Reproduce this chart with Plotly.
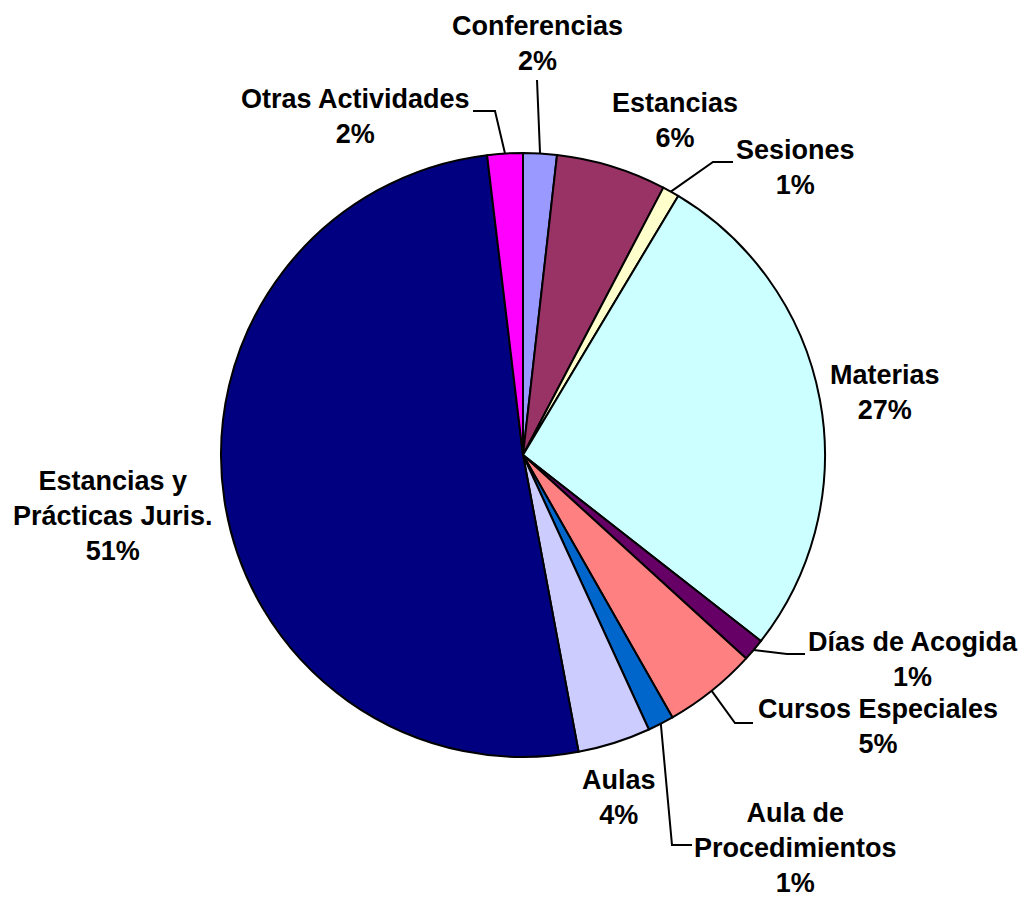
import math
import plotly.graph_objects as go

# ---- data ----
categories = ["Conferencias", "Estancias", "Sesiones", "Materias", "Días de Acogida",
              "Cursos Especiales", "Aula de Procedimientos", "Aulas",
              "Estancias y Prácticas Juris.", "Otras Actividades"]
label_text = ["Conferencias", "Estancias", "Sesiones", "Materias", "Días de Acogida",
              "Cursos Especiales", "Aula de<br>Procedimientos", "Aulas",
              "Estancias y<br>Prácticas Juris.", "Otras Actividades"]
values = [1.8, 5.9, 0.9, 27.0, 1.2, 5.0, 1.4, 3.9, 51.1, 1.9]
colors = ["#9999FF", "#993366", "#FFFFCC", "#CCFFFF", "#660066",
          "#FF8080", "#0066CC", "#CCCCFF", "#000080", "#FF00FF"]

W, H = 1024, 897
CX, CY, R = 523, 455, 302

# label layout (pixel centres of text blocks) and leader elbows (None = no leader)
label_pos = [(537, 43), (675, 120), (795, 167), (885, 392), (913, 659),
             (878, 726), (795, 848), (619, 797), (113, 516), (355, 116)]
leader_elbow = [[(537, 80)], None, [(713, 162), (733, 162)], None,
                [(787, 654), (805, 654)], [(735, 723), (753, 723)],
                [(672, 845), (692, 845)], None, None, [(495, 111), (473, 111)]]


def px(x):
    return x / W


def py(y):
    return 1 - y / H


fig = go.Figure(go.Pie(
    labels=categories, values=values, sort=False, direction="clockwise", rotation=0,
    marker=dict(colors=colors, line=dict(color="black", width=2)),
    textinfo="none", showlegend=False,
    domain=dict(x=[px(CX - R), px(CX + R)], y=[py(CY + R), py(CY - R)]),
))

total = sum(values)
cum = 0.0
shapes = []
annotations = []
for i, v in enumerate(values):
    mid = (cum + v / 2) / total * 2 * math.pi
    cum += v
    ex = CX + R * math.sin(mid)
    ey = CY - R * math.cos(mid)
    pct = round(v / total * 100)
    lx, ly = label_pos[i]
    annotations.append(dict(
        x=px(lx), y=py(ly), xref="paper", yref="paper", showarrow=False,
        text=f"<b>{label_text[i]}<br>{pct}%</b>", align="center",
        font=dict(family="Arial, Liberation Sans, sans-serif", size=27, color="black"),
        xanchor="center", yanchor="middle"))
    if leader_elbow[i]:
        pts = [(ex, ey)] + leader_elbow[i]
        path = "M " + " L ".join(f"{px(a)},{py(b)}" for a, b in pts)
        shapes.append(dict(type="path", path=path, xref="paper", yref="paper",
                           line=dict(color="black", width=2)))

fig.update_layout(
    width=W, height=H, margin=dict(l=0, r=0, t=0, b=0),
    paper_bgcolor="white", plot_bgcolor="white",
    shapes=shapes, annotations=annotations,
)

fig.write_html("out.html", config={"displayModeBar": False},
               post_script="document.body.style.margin='0';")
